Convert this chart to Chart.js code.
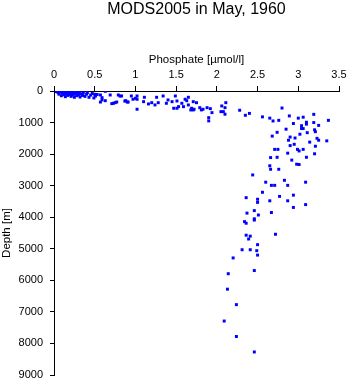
<!DOCTYPE html>
<html>
<head>
<meta charset="utf-8">
<title>MODS2005 in May, 1960</title>
<script src="https://cdn.jsdelivr.net/npm/chart.js@4/dist/chart.umd.min.js"></script>
<style>
    html, body { margin: 0; padding: 0; background: #fff; }
    #chart { display: block; }
</style>
</head>
<body>
<canvas id="chart" width="350" height="384"></canvas>
<script>
// Station casts: phosphate [umol/l] and depth [m], paired by index
var phosphate = [
    // surface layer
    0.03, 0.05, 0.06, 0.08, 0.09, 0.10, 0.11, 0.12, 0.13, 0.14,
    0.15, 0.16, 0.17, 0.18, 0.19, 0.20, 0.21, 0.22, 0.23, 0.24,
    0.25, 0.26, 0.27, 0.28, 0.29, 0.30, 0.31, 0.32, 0.33, 0.35,
    0.36, 0.38, 0.40, 0.41, 0.43, 0.45, 0.47, 0.49, 0.51, 0.53,
    0.50, 0.59, 0.57, 0.71, 0.77, 0.81, 0.87, 0.91,
    // thermocline
    0.63, 0.57, 0.69, 0.59, 0.63, 0.73, 0.75, 0.79, 0.83, 0.88,
    0.90, 0.95, 1.02, 1.00, 0.97, 1.02, 1.11, 1.10, 1.16, 1.20,
    1.24, 1.26, 1.34, 1.40, 1.45, 1.38, 1.49, 1.51, 1.47, 1.53,
    1.57, 1.63, 1.65, 1.69, 1.72, 1.71, 1.75, 1.02, 1.28, 1.51,
    1.61, 1.79, 1.83, 1.88, 1.92, 1.94, 1.90, 1.90, 1.68, 1.65,
    1.59, 1.71, 1.81, 2.06, 2.11, 2.10, 2.05, 2.08, 2.10,
    // intermediate water
    2.28, 2.35, 2.40, 2.56, 2.65, 2.69, 2.76, 2.80, 2.89, 3.00,
    3.06, 3.19, 2.94, 3.04, 3.10, 3.10, 3.06, 3.04, 3.19, 3.25,
    3.37, 2.85, 2.74, 2.68, 3.11, 3.20, 3.21, 3.02, 2.90, 2.96,
    3.23, 3.25, 3.35, 2.88, 3.14, 2.95, 2.90, 3.21, 2.71, 2.75,
    2.99, 3.01, 3.06, 2.87, 3.20,
    2.66, 2.74, 3.10, 2.92, 2.98, 3.01, 2.65, 2.66, 2.76, 2.44,
    2.83, 3.09, 2.60, 2.67, 2.71, 2.87, 2.56, 2.77, 2.94, 2.36,
    2.50, 2.65, 2.50, 2.87, 3.09, 2.94,
    // deep water
    2.37, 2.46, 2.51, 2.67, 2.34, 2.36, 2.46, 2.46, 2.36, 2.41,
    2.39, 2.72, 2.50, 2.31, 2.41, 2.49, 2.50, 2.20, 2.46, 2.14,
    2.13, 2.24, 2.09, 2.24, 2.46
];
var depth = [
    20, 50, 100, 30, 150, 70, 10, 120, 40, 180,
    90, 20, 140, 60, 110, 30, 170, 80, 130, 50,
    200, 100, 20, 150, 70, 120, 40, 190, 90, 140,
    60, 170, 100, 50, 200, 130, 80, 220, 160, 110,
    105, 210, 350, 400, 350, 160, 320, 350,
    10, 126, 126, 284, 307, 389, 370, 126, 158, 307,
    348, 158, 158, 231, 262, 578, 199, 338, 411, 370,
    442, 199, 158, 284, 338, 389, 158, 547, 547, 496,
    389, 307, 442, 547, 578, 338, 370, 262, 370, 316,
    262, 528, 578, 528, 560, 686, 844, 948, 600, 199,
    496, 600, 600, 474, 370, 528, 654, 654, 736,
    610, 770, 710, 820, 860, 950, 930, 540, 790, 860,
    830, 740, 1030, 1100, 990, 1050, 1190, 1190, 1000, 1090,
    930, 1210, 1310, 1430, 1320, 1230, 1290, 1370, 1460, 1490,
    1500, 1560, 1580, 1560, 1620, 1690, 1730, 1750, 1850, 1850,
    1850, 1900, 1850, 1970, 1990,
    2110, 2100, 2100, 2190, 2320, 2330, 2370, 2480, 2480, 2660,
    2830, 2890, 2890, 2990, 2990, 2990, 3210, 3340, 3300, 3380,
    3430, 3480, 3530, 3480, 3600, 3690,
    3870, 3790, 3930, 3850, 4140, 4190, 4050, 4090, 4570, 4600,
    4690, 4540, 4870, 5030, 5030, 5060, 5200, 5290, 5690, 5790,
    6280, 6770, 7290, 7780, 8270
];

var phosphateTicks = [0, 0.5, 1, 1.5, 2, 2.5, 3, 3.5];
var depthTicks = [0, 1000, 2000, 3000, 4000, 5000, 6000, 7000, 8000, 9000];

var chartTitle = 'MODS2005 in May, 1960';
var fontFamily = '"Liberation Sans", Arial, Helvetica, sans-serif';

var points = phosphate.map(function (p, i) {
    return { x: p, y: depth[i] };
});

// Title centred over the plot area rather than the canvas
var plotTitle = {
    id: 'plotTitle',
    afterDraw: function (chart) {
        var ctx = chart.ctx;
        var area = chart.chartArea;
        ctx.save();
        ctx.font = '16px ' + fontFamily;
        ctx.fillStyle = '#000';
        ctx.textAlign = 'center';
        ctx.textBaseline = 'alphabetic';
        ctx.fillText(chartTitle, (area.left + area.right) / 2, 14);
        ctx.restore();
    }
};

var ctx = document.getElementById('chart');
var chart = new Chart(ctx, {
    type: 'scatter',
    data: {
        datasets: [{
            data: points,
            backgroundColor: '#0000ff',
            borderWidth: 0,
            pointStyle: 'rect',
            pointRadius: 2.1,
            pointHoverRadius: 2.1
        }]
    },
    options: {
        responsive: false,
        animation: false,
        events: [],
        layout: { padding: { top: 0, left: 0, right: 11, bottom: 9 } },
        plugins: {
            legend: { display: false },
            tooltip: { enabled: false },
            title: { display: false }
        },
        scales: {
            x: {
                type: 'linear',
                position: 'top',
                min: 0,
                max: 3.5,
                afterFit: function (scale) {
                    scale.height = 91;
                    scale.paddingLeft = 0;
                    scale.paddingRight = 0;
                },
                afterBuildTicks: function (scale) {
                    scale.ticks = phosphateTicks.map(function (v) { return { value: v }; });
                },
                ticks: {
                    color: '#000',
                    padding: 4,
                    maxRotation: 0,
                    font: { family: fontFamily, size: 11 },
                    callback: function (v) { return String(v); }
                },
                grid: { drawOnChartArea: false, drawTicks: true, tickLength: 5, color: '#000' },
                border: { color: '#000', width: 1 },
                title: {
                    display: true,
                    text: 'Phosphate [µmol/l]',
                    color: '#000',
                    padding: { top: 53, bottom: 0 },
                    font: { family: fontFamily, size: 11.5 }
                }
            },
            y: {
                type: 'linear',
                reverse: true,
                min: 0,
                max: 9000,
                afterFit: function (scale) {
                    scale.width = 54;
                    scale.paddingTop = 0;
                    scale.paddingBottom = 0;
                },
                afterBuildTicks: function (scale) {
                    scale.ticks = depthTicks.map(function (v) { return { value: v }; });
                },
                ticks: {
                    color: '#000',
                    padding: 7,
                    font: { family: fontFamily, size: 11 },
                    callback: function (v) { return String(v); }
                },
                grid: { drawOnChartArea: false, drawTicks: true, tickLength: 4, color: '#000' },
                border: { color: '#000', width: 1 },
                title: {
                    display: true,
                    text: 'Depth [m]',
                    color: '#000',
                    padding: { top: 0, bottom: 0 },
                    font: { family: fontFamily, size: 11.5 }
                }
            }
        }
    },
    plugins: [plotTitle]
});
</script>
</body>
</html>
